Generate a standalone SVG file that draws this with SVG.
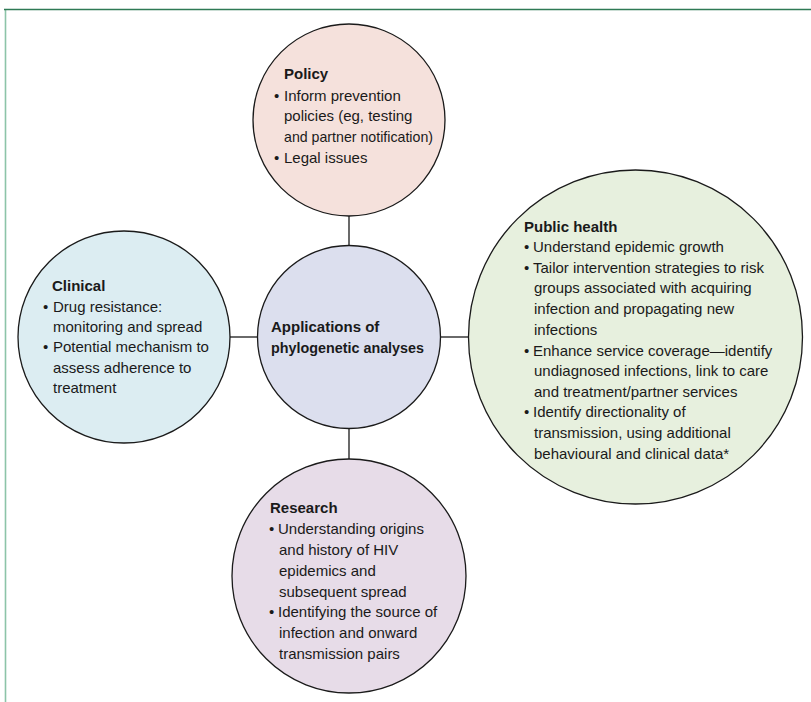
<svg xmlns="http://www.w3.org/2000/svg" width="811" height="702" viewBox="0 0 811 702">
<style>
.node{stroke:#1a1a1a;stroke-width:1.3}
.conn line{stroke:#1a1a1a;stroke-width:1.3}
text{font-family:"Liberation Sans",Arial,sans-serif;font-size:15px;fill:#1a1a1a}
.h{font-weight:bold}
</style>
<rect width="811" height="702" fill="#ffffff"/>
<g id="frame">
<line x1="5.5" y1="9" x2="5.5" y2="702" stroke="#8cc4a8" stroke-width="1.6"/>
<line x1="4" y1="9.5" x2="811" y2="9.5" stroke="#2e7a55" stroke-width="1.6"/>
</g>
<g class="conn" id="connectors">
<line x1="349" y1="216" x2="349" y2="246"/>
<line x1="230" y1="337" x2="258" y2="337"/>
<line x1="440" y1="337" x2="469" y2="337"/>
<line x1="349" y1="428" x2="349" y2="459"/>
</g>
<g id="policy">
<circle class="node" cx="349" cy="120" r="96" fill="#f5e1dc"/>
<text class="h" x="284" y="79">Policy</text>
<text x="274" y="101">•</text><text x="284" y="101">Inform prevention</text>
<text x="284" y="121">policies (eg, testing</text>
<text x="284" y="142" textLength="149" lengthAdjust="spacingAndGlyphs">and partner notification)</text>
<text x="274" y="163">•</text><text x="284" y="163">Legal issues</text>
</g>
<g id="clinical">
<circle class="node" cx="124" cy="337" r="106" fill="#dcedf2"/>
<text class="h" x="52" y="291">Clinical</text>
<text x="43" y="312">•</text><text x="53" y="312">Drug resistance:</text>
<text x="53" y="332">monitoring and spread</text>
<text x="43" y="352">•</text><text x="53" y="352">Potential mechanism to</text>
<text x="53" y="373">assess adherence to</text>
<text x="53" y="393">treatment</text>
</g>
<g id="central">
<circle class="node" cx="349" cy="337" r="91.5" fill="#dcdfee"/>
<text class="h" x="271" y="332">Applications of</text>
<text class="h" x="271" y="353" textLength="153" lengthAdjust="spacingAndGlyphs">phylogenetic analyses</text>
</g>
<g id="public-health">
<circle class="node" cx="635.5" cy="337" r="167" fill="#e7f0de"/>
<text class="h" x="524" y="232">Public health</text>
<text x="524" y="252">•</text><text x="533" y="252">Understand epidemic growth</text>
<text x="524" y="273">•</text><text x="533" y="273">Tailor intervention strategies to risk</text>
<text x="534" y="293">groups associated with acquiring</text>
<text x="534" y="314">infection and propagating new</text>
<text x="534" y="335">infections</text>
<text x="524" y="356">•</text><text x="533" y="356">Enhance service coverage—identify</text>
<text x="534" y="376">undiagnosed infections, link to care</text>
<text x="534" y="397">and treatment/partner services</text>
<text x="524" y="417">•</text><text x="533" y="417">Identify directionality of</text>
<text x="534" y="438">transmission, using additional</text>
<text x="534" y="459">behavioural and clinical data*</text>
</g>
<g id="research">
<circle class="node" cx="349" cy="576" r="117" fill="#e7dce8"/>
<text class="h" x="270" y="513">Research</text>
<text x="269" y="534">•</text><text x="278" y="534">Understanding origins</text>
<text x="279" y="555">and history of HIV</text>
<text x="279" y="576">epidemics and</text>
<text x="279" y="597">subsequent spread</text>
<text x="269" y="617">•</text><text x="278" y="617">Identifying the source of</text>
<text x="279" y="638">infection and onward</text>
<text x="279" y="659">transmission pairs</text>
</g>
</svg>
